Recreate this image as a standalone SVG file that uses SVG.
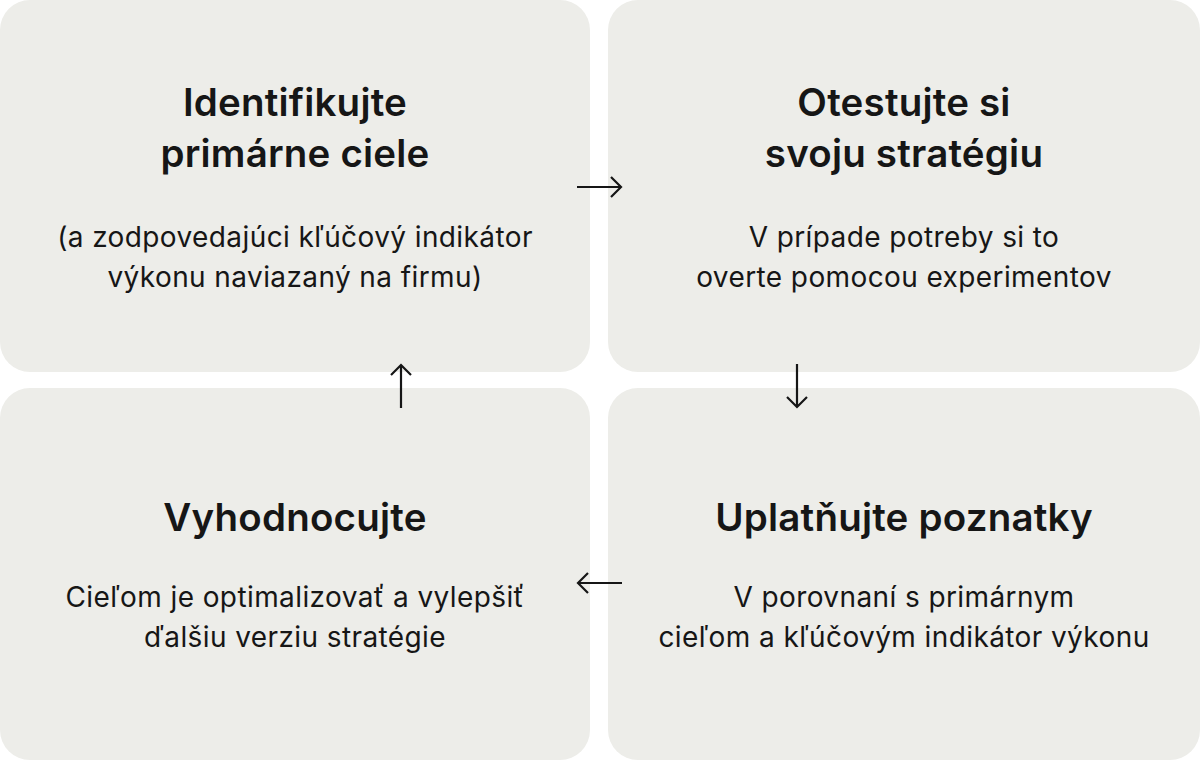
<svg xmlns="http://www.w3.org/2000/svg" width="1200" height="760" viewBox="0 0 1200 760">
<style>
.box{fill:#EDEDE9}
.t{font-family:Inter,"Noto Sans",sans-serif;font-weight:600;font-size:38.5px;fill:#161616;text-anchor:middle;letter-spacing:0.2px}
.b{font-family:Inter,"Noto Sans",sans-serif;font-weight:400;font-size:28px;fill:#161616;text-anchor:middle;letter-spacing:0.4px}
.c{fill:none;stroke:#161616;stroke-width:2.2;stroke-linecap:butt;stroke-linejoin:miter}
</style>
<rect width="1200" height="760" fill="#ffffff"/>
<g id="node-identify">
<rect class="box" x="0" y="0" width="590" height="372" rx="30"/>
<text class="t" x="295" y="116">Identifikujte</text>
<text class="t" x="295" y="167">primárne ciele</text>
<text class="b" x="295" y="247">(a zodpovedajúci kľúčový indikátor</text>
<text class="b" x="295" y="287">výkonu naviazaný na firmu)</text>
</g>
<g id="node-test">
<rect class="box" x="608" y="0" width="592" height="372" rx="30"/>
<text class="t" x="904" y="116">Otestujte si</text>
<text class="t" x="904" y="167">svoju stratégiu</text>
<text class="b" x="904" y="247">V prípade potreby si to</text>
<text class="b" x="904" y="287">overte pomocou experimentov</text>
</g>
<g id="node-evaluate">
<rect class="box" x="0" y="388" width="590" height="372" rx="30"/>
<text class="t" x="295" y="531">Vyhodnocujte</text>
<text class="b" x="295" y="607">Cieľom je optimalizovať a vylepšiť</text>
<text class="b" x="295" y="647">ďalšiu verziu stratégie</text>
</g>
<g id="node-apply">
<rect class="box" x="608" y="388" width="592" height="372" rx="30"/>
<text class="t" x="904" y="531">Uplatňujte poznatky</text>
<text class="b" x="904" y="607">V porovnaní s primárnym</text>
<text class="b" x="904" y="647">cieľom a kľúčovým indikátor výkonu</text>
</g>
<g id="connectors">
<path class="c" d="M577 187H621M611 177L621 187L611 197"/>
<path class="c" d="M797 364V407M787 397L797 407L807 397"/>
<path class="c" d="M622 583H578M588 573L578 583L588 593"/>
<path class="c" d="M401 408V365M391 375L401 365L411 375"/>
</g>
</svg>
